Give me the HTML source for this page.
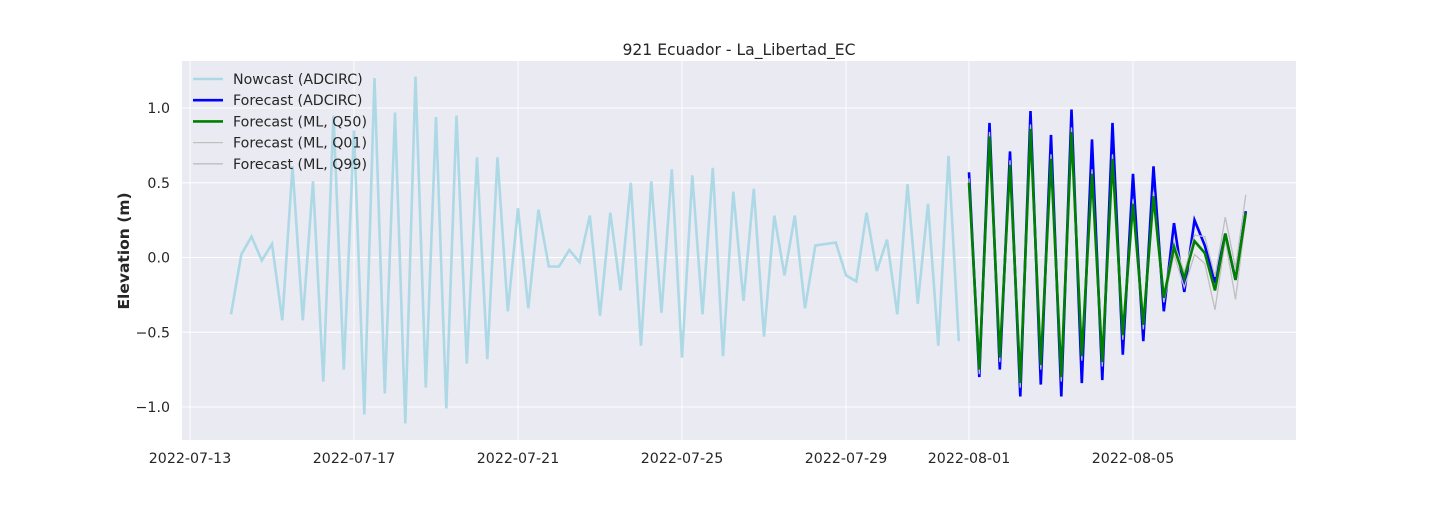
<!DOCTYPE html>
<html><head><meta charset="utf-8"><style>
body{margin:0;background:#fff;}
svg text{font-family:"DejaVu Sans","Liberation Sans",sans-serif;fill:#262626;}
</style></head><body>
<svg id="chart" width="1440" height="504" xmlns="http://www.w3.org/2000/svg">
<rect x="182" y="61" width="1114" height="379" fill="#eaeaf2"/>
<g id="grid"></g>
<g id="ticks"></g>
<g id="series"></g>
<text x="739" y="55" text-anchor="middle" font-size="15.6">921 Ecuador - La_Libertad_EC</text>
<text transform="translate(129,251) rotate(-90)" text-anchor="middle" font-size="15.5" font-weight="bold">Elevation (m)</text>
<g id="legend"></g>
</svg>
<script>
const xTickDays=[0,4,8,12,16,19,23];
const xTickLabels=["2022-07-13","2022-07-17","2022-07-21","2022-07-25","2022-07-29","2022-08-01","2022-08-05"];
const yTicks=[-1.0,-0.5,0.0,0.5,1.0];
const yTickLabels=["\u22121.0","\u22120.5","0.0","0.5","1.0"];
const nowStart=1.0, fcStart=19.0, step=0.25;
const nowcast=[-0.38,0.02,0.14,-0.02,0.09,-0.42,0.61,-0.42,0.51,-0.83,0.95,-0.75,0.85,-1.05,1.20,-0.91,0.97,-1.11,1.21,-0.87,0.94,-1.01,0.95,-0.71,0.67,-0.68,0.67,-0.36,0.33,-0.34,0.32,-0.06,-0.06,0.05,-0.03,0.28,-0.39,0.30,-0.22,0.50,-0.59,0.51,-0.37,0.59,-0.67,0.55,-0.38,0.60,-0.66,0.44,-0.29,0.46,-0.53,0.28,-0.12,0.28,-0.34,0.08,0.09,0.10,-0.12,-0.16,0.30,-0.09,0.12,-0.38,0.49,-0.31,0.36,-0.59,0.68,-0.56];
const fcAdcirc=[0.57,-0.80,0.90,-0.75,0.71,-0.93,0.98,-0.85,0.82,-0.93,0.99,-0.84,0.79,-0.82,0.90,-0.65,0.56,-0.56,0.61,-0.36,0.23,-0.23,0.25,0.08,-0.17,0.16,-0.15,0.31];
const fcQ50=[0.50,-0.75,0.81,-0.67,0.62,-0.84,0.86,-0.72,0.66,-0.80,0.84,-0.66,0.56,-0.70,0.66,-0.52,0.36,-0.45,0.41,-0.27,0.07,-0.14,0.11,0.03,-0.22,0.16,-0.15,0.30];
const fcQ01=[0.47,-0.78,0.78,-0.70,0.59,-0.87,0.83,-0.75,0.63,-0.83,0.81,-0.69,0.53,-0.73,0.63,-0.55,0.33,-0.48,0.38,-0.30,0.02,-0.20,0.02,-0.04,-0.35,0.12,-0.28,0.27];
const fcQ99=[0.53,-0.72,0.84,-0.64,0.65,-0.81,0.89,-0.69,0.69,-0.77,0.87,-0.63,0.59,-0.67,0.69,-0.49,0.39,-0.42,0.44,-0.24,0.10,-0.10,0.15,0.14,-0.13,0.27,-0.07,0.42];

const NS="http://www.w3.org/2000/svg";
const X=d=>190+d*41, Y=v=>257.5-v*149.5;
function mk(tag,attrs,parent){const e=document.createElementNS(NS,tag);for(const k in attrs)e.setAttribute(k,attrs[k]);parent.appendChild(e);return e;}
const grid=document.getElementById('grid'),ticks=document.getElementById('ticks'),series=document.getElementById('series'),legend=document.getElementById('legend');
xTickDays.forEach((d,i)=>{
  const l=mk('line',{x1:X(d),x2:X(d),y1:61,y2:440,stroke:'#fff','stroke-width':1},grid);
  
  
  const t=mk('text',{x:X(d),y:463,'text-anchor':'middle','font-size':14.2},ticks);
  
  
  t.textContent=xTickLabels[i];
});
yTicks.forEach((v,i)=>{
  const l=mk('line',{x1:182,x2:1296,y1:Y(v),y2:Y(v),stroke:'#fff','stroke-width':1},grid);
  
  
  const t=mk('text',{x:170,y:Y(v)+5,'text-anchor':'end','font-size':14.2},ticks);
  
  
  t.textContent=yTickLabels[i];
});
function line(arr,start,color,w,name){
  const pts=arr.map((v,i)=>X(start+i*step).toFixed(1)+','+Y(v).toFixed(1)).join(' ');
  const p=mk('polyline',{points:pts,fill:'none',stroke:color,'stroke-width':w,'stroke-linejoin':'miter'},series);
  
  
}
line(nowcast,nowStart,'#add8e6',2.6,'nowcast-adcirc-line');
line(fcAdcirc,fcStart,'#0000ff',2.6,'forecast-adcirc-line');
line(fcQ01,fcStart,'#bfbfbf',1.3,'forecast-ml-q01-line');
line(fcQ99,fcStart,'#bfbfbf',1.3,'forecast-ml-q99-line');
line(fcQ50,fcStart,'#008000',2.6,'forecast-ml-q50-line');
const legItems=[["Nowcast (ADCIRC)",'#add8e6',2.6],["Forecast (ADCIRC)",'#0000ff',2.6],["Forecast (ML, Q50)",'#008000',2.6],["Forecast (ML, Q01)",'#bfbfbf',1.3],["Forecast (ML, Q99)",'#bfbfbf',1.3]];
legItems.forEach((it,i)=>{
  const y=79+i*21.2;
  const l=mk('line',{x1:193,x2:223,y1:y,y2:y,stroke:it[1],'stroke-width':it[2]},legend);
  
  
  const t=mk('text',{x:233,y:y+5,'font-size':14.2},legend);
  
  
  t.textContent=it[0];
});
</script>
</body></html>
